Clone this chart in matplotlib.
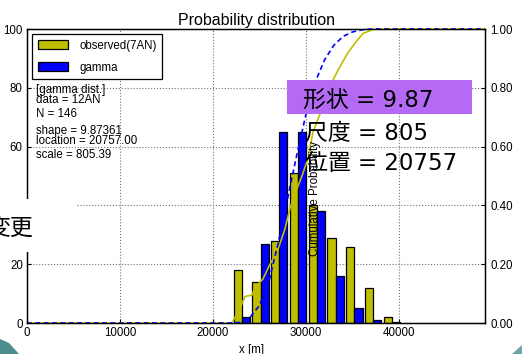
import matplotlib
matplotlib.use('Agg')
import matplotlib.pyplot as plt
from matplotlib.patches import Rectangle, Polygon

# ---------------- data ----------------
bin_centers = [23100, 25120, 27130, 29150, 31160, 33180, 35200, 37210, 39230]
observed_counts = [18, 14, 28, 51, 40, 29, 26, 12, 2]
gamma_counts = [2, 27, 65, 65, 38, 16, 5, 1, 0.4]

obs_cdf_x = [0, 22040, 22900, 23440, 24190, 24520, 25380, 26130, 26880, 27200,
             27740, 28280, 28820, 29570, 30220, 30750, 31500, 32500, 33440,
             34520, 35480, 36130, 37420, 49250]
obs_cdf_y = [0, 0, 0.05, 0.09, 0.095, 0.12, 0.15, 0.20, 0.24, 0.27,
             0.32, 0.39, 0.44, 0.50, 0.56, 0.65, 0.71, 0.80, 0.86,
             0.92, 0.96, 0.985, 1.0, 1.0]

gam_cdf_x = [0, 22000, 23000, 24000, 25000, 26000, 27000, 28000, 29000, 30000,
             31000, 32000, 33000, 34000, 35000, 36000, 37000, 38000, 49250]
gam_cdf_y = [0, 0, 0.002, 0.02, 0.06, 0.14, 0.27, 0.42, 0.57, 0.71,
             0.82, 0.895, 0.945, 0.975, 0.99, 0.997, 1.0, 1.0, 1.0]

xticks = [0, 10000, 20000, 30000, 40000]
yticks_left = [0, 20, 40, 60, 80, 100]
yticks_right = [0.0, 0.2, 0.4, 0.6, 0.8, 1.0]

legend_labels = ['observed(7AN)', 'gamma']
stats_lines = ['[gamma dist.]', 'data = 12AN', 'N = 146',
               'shape = 9.87361', 'location = 20757.00', 'scale = 805.39']
overlay_lines = ['形状 = 9.87', '尺度 = 805', '位置 = 20757']
side_text = '変更'

# ---------------- layout helpers ----------------
W, H = 522, 354
def fx(px):
    return px / W
def fy(py):
    return 1 - py / H

plt.rcParams['font.family'] = ['Liberation Sans', 'DejaVu Sans']
CJK = ['DejaVu Sans', 'Noto Sans CJK JP']
YEL = '#bfbf00'
BLU = '#0000ff'
FS = 8.3

fig = plt.figure(figsize=(W / 100, H / 100), dpi=100)
ax = fig.add_axes([fx(27), fy(323), fx(485) - fx(27), fy(29) - fy(323)])

bw = 880
ax.bar(bin_centers, observed_counts, width=-bw, align='edge', color=YEL,
       edgecolor='black', linewidth=0.9, zorder=2)
ax.bar(bin_centers, gamma_counts, width=bw, align='edge', color=BLU,
       edgecolor='black', linewidth=0.9, zorder=2)

ax.set_xlim(0, 49250)
ax.set_ylim(0, 100)
ax.set_xticks(xticks)
ax.set_yticks(yticks_left)
ax.grid(True, color='0.45', linestyle=':', linewidth=0.8, zorder=0)
ax.set_axisbelow(True)
ax.tick_params(direction='in', length=3, labelsize=FS, pad=3)
for s in ax.spines.values():
    s.set_linewidth(1.0)

ax2 = ax.twinx()
ax2.set_ylim(0, 1)
ax2.set_yticks(yticks_right)
ax2.set_yticklabels(['%.2f' % v for v in yticks_right])
ax2.tick_params(direction='in', length=3, labelsize=FS, pad=4)
ax2.plot(obs_cdf_x, obs_cdf_y, color=YEL, linewidth=1.2, clip_on=False)
ax2.plot(gam_cdf_x, gam_cdf_y, color=BLU, linewidth=1.2, linestyle=(0, (3, 2)),
         clip_on=False)

ax.set_title('Probability distribution', fontsize=11.5, pad=3)

handles = [Rectangle((0, 0), 1, 1, facecolor=YEL, edgecolor='black', linewidth=0.9),
           Rectangle((0, 0), 1, 1, facecolor=BLU, edgecolor='black', linewidth=0.9)]
leg = ax2.legend(handles, legend_labels, loc='upper left',
                 bbox_to_anchor=(fx(32), fy(34)), bbox_transform=fig.transFigure,
                 borderaxespad=0, fontsize=FS, fancybox=False, framealpha=1,
                 edgecolor='black', handlelength=2.6, handleheight=0.8,
                 borderpad=0.5, labelspacing=0.85, handletextpad=1.0)
leg.get_frame().set_linewidth(0.9)

stat_y = [90, 100, 114, 131, 141, 155]
for t, py in zip(stats_lines, stat_y):
    fig.text(fx(36), fy(py), t, fontsize=FS, va='center', ha='left')

fig.text(fx(252), fy(350), 'x [m]', fontsize=FS, ha='center', va='center')
fig.text(fx(315), fy(199), 'Cumulative Probability', fontsize=FS,
         rotation=90, ha='center', va='center', zorder=4)

# slide overlays
fig.add_artist(Rectangle((fx(287), fy(114)), fx(472) - fx(287), fy(80) - fy(114),
                         transform=fig.transFigure, facecolor='#b46af5',
                         edgecolor='none', zorder=10))
over_y = [100, 133, 163]
over_x = [303, 305, 305]
for t, px, py in zip(overlay_lines, over_x, over_y):
    fig.text(fx(px), fy(py), t, fontsize=16.5, family=CJK, va='center',
             ha='left', zorder=11)

fig.add_artist(Rectangle((0, fy(252)), fx(77), fy(199) - fy(252),
                         transform=fig.transFigure, facecolor='white',
                         edgecolor='none', zorder=10))
fig.text(fx(-13), fy(228), side_text, fontsize=16.5, family=CJK, va='center',
         ha='left', zorder=11)

fig.add_artist(Polygon([(0, fy(339)), (fx(9), fy(343)), (fx(19), fy(354)), (0, fy(354))],
                       closed=True, transform=fig.transFigure,
                       facecolor='#4d8c8c', edgecolor='none', zorder=12))
fig.add_artist(Polygon([(fx(522), fy(345)), (fx(522), fy(354)), (fx(512), fy(354))],
                       closed=True, transform=fig.transFigure,
                       facecolor='#6fa3a8', edgecolor='none', zorder=12))

fig.savefig('out.png', dpi=100)
